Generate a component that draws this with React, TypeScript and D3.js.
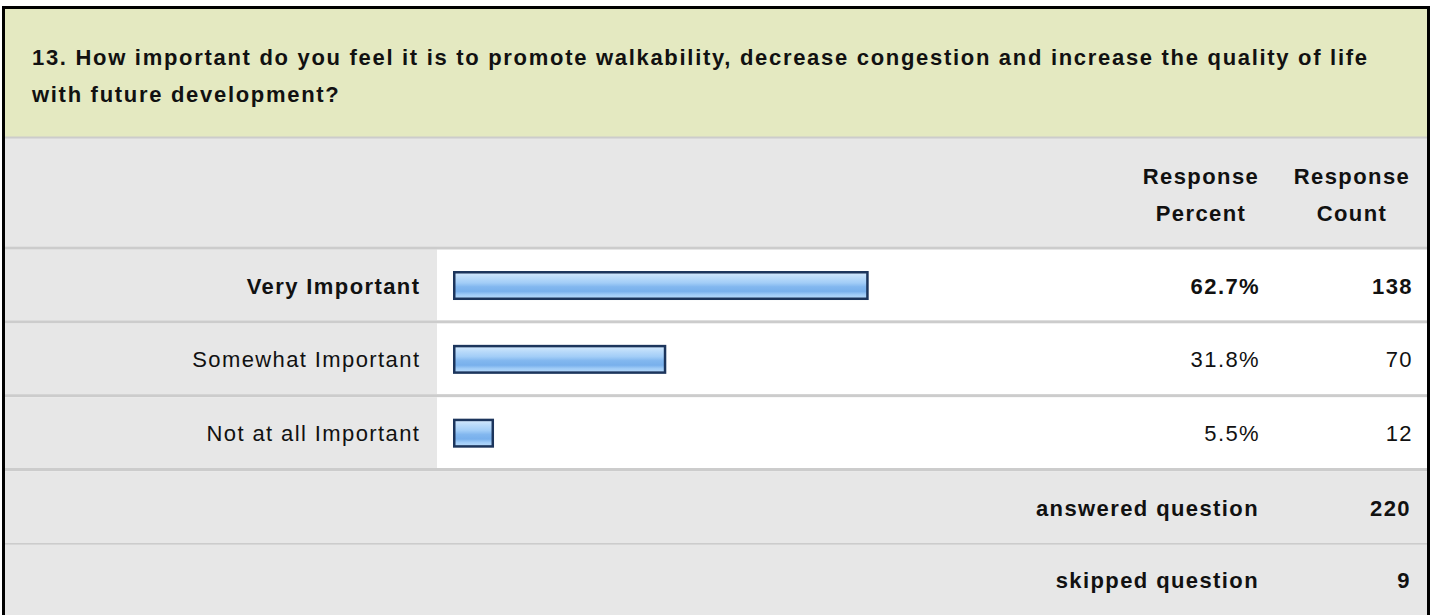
import React from "react";
import * as d3 from "d3";

const titleLines = [
  "13. How important do you feel it is to promote walkability, decrease congestion and increase the quality of life",
  "with future development?",
];
const headerPercent = ["Response", "Percent"];
const headerCount = ["Response", "Count"];
const categories = ["Very Important", "Somewhat Important", "Not at all Important"];
const percents = [62.7, 31.8, 5.5];
const counts = [138, 70, 12];
const boldRow = [true, false, false];
const summaryLabels = ["answered question", "skipped question"];
const summaryValues = [220, 9];

const W = 1432;
const H = 615;
const FONT = "'Liberation Sans', Arial, Helvetica, sans-serif";
const FS = 22;
const LS = 1.4;

export default function App() {
  const x = d3.scaleLinear().domain([0, 100]).range([0, 655]);
  const y = d3.scaleBand<string>().domain(categories).range([246.5, 468]);
  const step = y.step();
  const sep = 3.2;

  const boxL = 2, boxR = 1430, boxT = 6;
  const labelColR = 437;
  const barX0 = 453;
  const pctRight = 1260;
  const cntRight = 1413;
  const pctCenter = 1201;
  const cntCenter = 1352;

  const greenBottom = 137;
  const rowsBottom = y.range()[1];
  const ansTop = rowsBottom + sep;
  const skipSep = 543;

  const textProps = {
    fontFamily: FONT,
    fontSize: FS,
    letterSpacing: LS,
    fill: "#111",
  };

  return (
    <svg
      width={W}
      height={H}
      style={{ position: "absolute", left: 0, top: 0, display: "block" }}
    >
      <defs>
        <linearGradient id="barGrad" x1="0" y1="0" x2="0" y2="1">
          <stop offset="0" stopColor="#d6eafd" />
          <stop offset="0.18" stopColor="#bcdcfa" />
          <stop offset="0.4" stopColor="#a2cdf7" />
          <stop offset="0.55" stopColor="#82b7ef" />
          <stop offset="0.72" stopColor="#78b0ec" />
          <stop offset="0.85" stopColor="#a0ccf7" />
          <stop offset="1" stopColor="#b8dbfb" />
        </linearGradient>
      </defs>
      <rect x={0} y={0} width={W} height={H} fill="#ffffff" />
      <rect x={boxL} y={boxT} width={boxR - boxL} height={greenBottom - boxT} fill="#e4e9c1" />
      <rect x={boxL} y={greenBottom} width={boxR - boxL} height={y.range()[0] - greenBottom} fill="#e7e7e7" />
      <rect x={boxL} y={greenBottom - 0.5} width={boxR - boxL} height={2} fill="#cccccc" />
      {categories.map((c, i) => {
        const top = y(c)!;
        const cy = top + sep + (step - sep) / 2;
        const barH = 29;
        const bw = x(percents[i]) + 5;
        return (
          <g key={c}>
            <rect x={boxL} y={top} width={boxR - boxL} height={sep} fill="#cccccc" />
            <rect x={boxL} y={top + sep} width={labelColR - boxL} height={step - sep} fill="#e7e7e7" />
            <rect x={labelColR} y={top + sep} width={boxR - labelColR} height={step - sep} fill="#ffffff" />
            <rect
              x={barX0 + 1.25}
              y={cy + 0.5 - barH / 2 + 1.25}
              width={bw - 2.5}
              height={barH - 2.5}
              fill="url(#barGrad)"
              stroke="#1c355c"
              strokeWidth={2.5}
            />
            <text {...textProps} x={419 + LS} y={cy + 8.5} textAnchor="end" fontWeight={boldRow[i] ? "bold" : "normal"}>
              {c}
            </text>
            <text {...textProps} x={pctRight} y={cy + 8.5} textAnchor="end" fontWeight={boldRow[i] ? "bold" : "normal"}>
              {percents[i].toFixed(1) + "%"}
            </text>
            <text {...textProps} x={cntRight} y={cy + 8.5} textAnchor="end" fontWeight={boldRow[i] ? "bold" : "normal"}>
              {counts[i]}
            </text>
          </g>
        );
      })}
      <rect x={boxL} y={rowsBottom} width={boxR - boxL} height={sep} fill="#cccccc" />
      <rect x={boxL} y={ansTop} width={boxR - boxL} height={H - ansTop} fill="#e7e7e7" />
      <rect x={boxL} y={skipSep} width={boxR - boxL} height={1.6} fill="#cccccc" />
      {summaryLabels.map((s, i) => {
        const base = i === 0 ? 515.5 : 588;
        return (
          <g key={s}>
            <text {...textProps} x={pctRight - 1} y={base} textAnchor="end" fontWeight="bold">
              {s}
            </text>
            <text {...textProps} x={cntRight - 2} y={base} textAnchor="end" fontWeight="bold">
              {summaryValues[i]}
            </text>
          </g>
        );
      })}
      {titleLines.map((t, i) => (
        <text key={i} {...textProps} letterSpacing={1.7} x={32} y={65 + i * 36.5} fontWeight="bold">
          {t}
        </text>
      ))}
      {headerPercent.map((t, i) => (
        <text key={"p" + i} {...textProps} x={pctCenter} y={184 + i * 37} textAnchor="middle" fontWeight="bold">
          {t}
        </text>
      ))}
      {headerCount.map((t, i) => (
        <text key={"c" + i} {...textProps} x={cntCenter} y={184 + i * 37} textAnchor="middle" fontWeight="bold">
          {t}
        </text>
      ))}
      <path
        d={`M${boxL + 1.5},${H + 5} V${boxT + 1.5} H${boxR - 1.5} V${H + 5}`}
        fill="none"
        stroke="#000"
        strokeWidth={3}
      />
    </svg>
  );
}
